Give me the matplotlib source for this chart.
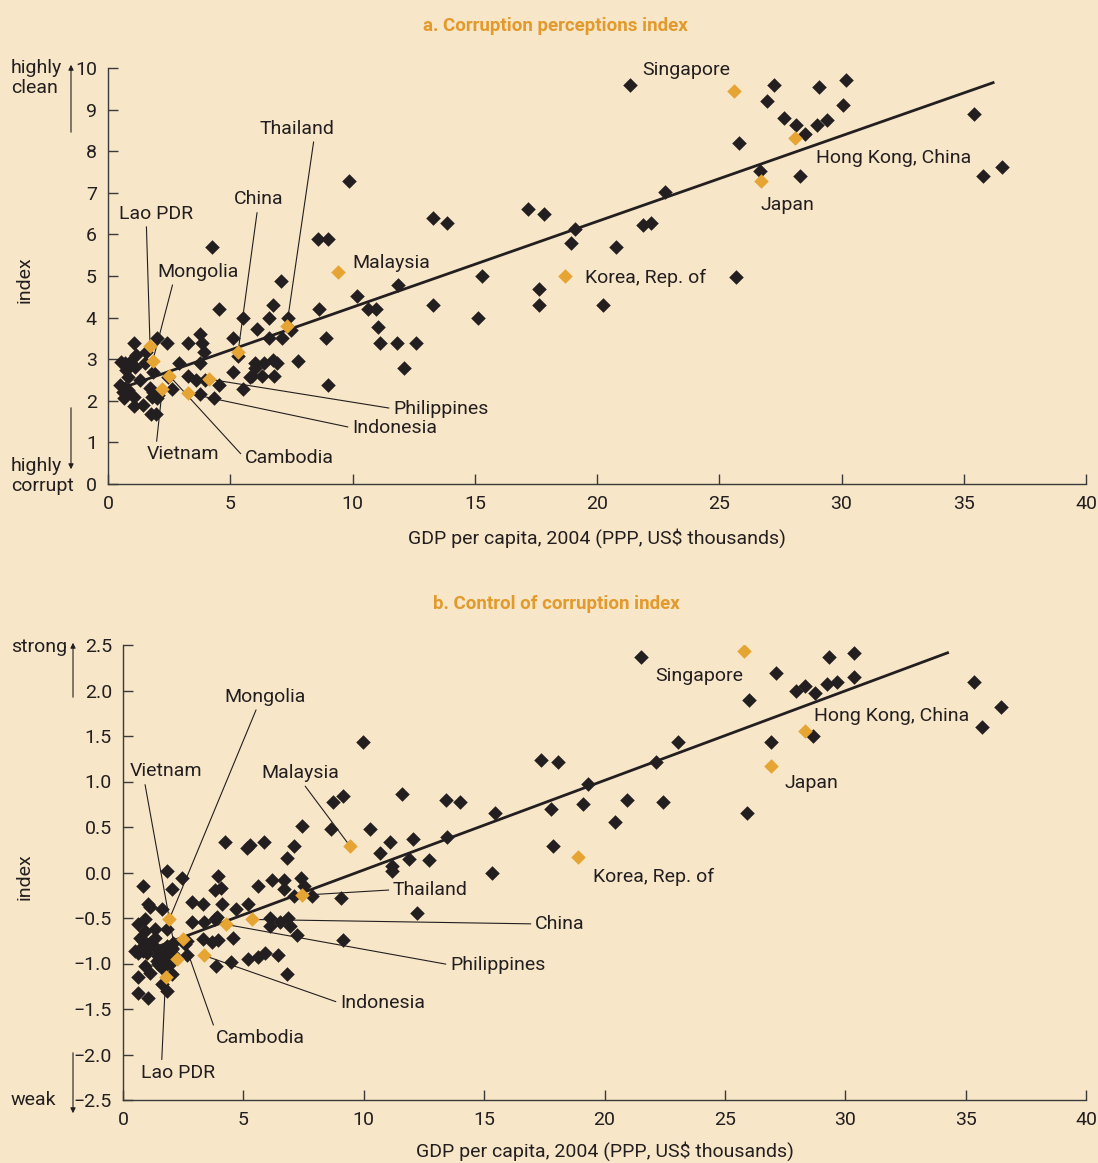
import numpy as np
import matplotlib
matplotlib.use("Agg")
import matplotlib.pyplot as plt
from matplotlib.ticker import FuncFormatter

plt.rcParams["font.family"] = ["Roboto", "DejaVu Sans"]

BG = "#f8e6c8"
DARK = "#231f20"
ORANGE = "#e6a532"
TITLE = "#e39a2d"

# ---------------- panel a: corruption perceptions index ----------------
a_other_x = [1.06, 2.02, 2.43, 1.54, 1.15, 0.52, 0.70, 0.90, 1.10, 0.72, 0.83, 1.53, 1.85, 2.89, 1.31,
             0.49, 0.70, 0.63, 0.83, 0.67, 1.08, 1.08, 1.45, 1.72, 1.85, 1.79, 1.99, 1.92, 2.06, 1.76,
             1.95, 2.60, 2.47,
             3.29, 3.76, 3.86, 3.93, 3.76, 3.29, 3.58, 3.96, 3.76, 4.35, 4.55, 4.55, 4.25, 5.53, 5.13,
             5.33, 5.13, 5.51, 6.08, 6.01, 6.01, 5.88, 5.80, 6.29, 6.39, 6.60, 6.76, 6.60, 7.08, 7.10,
             7.37, 7.48, 6.76, 6.90, 6.79, 7.76, 8.63, 8.60, 9.01, 8.92, 9.01, 9.87, 10.17, 10.62,
             10.96, 11.03, 11.12, 11.80, 11.87, 12.12, 12.60,
             13.28, 13.85, 13.28, 15.31, 15.12, 17.17, 17.85, 17.64, 17.64, 18.92, 19.10, 20.26,
             20.76, 21.90, 22.20, 22.80, 21.35, 27.25, 26.97, 29.08, 30.17, 30.07, 27.63, 28.14,
             28.52, 29.00, 29.39, 25.81, 26.68, 28.32, 35.40, 35.80, 36.56, 25.70]
a_other_y = [3.40, 3.52, 3.40, 3.18, 3.09, 2.94, 2.90, 2.94, 2.82, 2.74, 2.58, 2.92, 2.70, 2.92, 2.50,
             2.38, 2.30, 2.22, 2.26, 2.06, 2.08, 1.87, 1.90, 2.30, 2.22, 2.10, 2.06, 2.14, 2.14, 1.68,
             1.68, 2.28, 2.58,
             3.40, 3.61, 3.40, 3.18, 2.92, 2.60, 2.50, 2.50, 2.16, 2.06, 2.38, 4.20, 5.69, 3.98, 3.52,
             3.07, 2.70, 2.28, 3.72, 2.92, 2.78, 2.60, 2.58, 2.60, 2.92, 3.98, 4.30, 3.52, 4.89, 3.52,
             3.98, 3.70, 2.98, 2.90, 2.60, 2.96, 4.20, 5.90, 5.90, 3.52, 2.38, 7.29, 4.52, 4.20,
             4.20, 3.77, 3.40, 3.40, 4.78, 2.80, 3.40,
             6.39, 6.28, 4.30, 5.00, 3.98, 6.60, 6.49, 4.68, 4.30, 5.80, 6.12, 4.30,
             5.69, 6.23, 6.28, 7.03, 9.60, 9.60, 9.21, 9.54, 9.70, 9.12, 8.79, 8.63,
             8.42, 8.63, 8.74, 8.20, 7.52, 7.40, 8.90, 7.40, 7.62, 4.98]

a_names = ["Singapore", "Hong Kong, China", "Japan", "Korea, Rep. of", "Malaysia", "Thailand",
           "China", "Lao PDR", "Mongolia", "Vietnam", "Cambodia", "Philippines", "Indonesia"]
a_gdp = [25.6, 28.1, 26.7, 18.7, 9.4, 7.31, 5.32, 1.72, 1.83, 2.22, 2.51, 4.14, 3.29]
a_cpi = [9.45, 8.31, 7.29, 5.00, 5.10, 3.80, 3.18, 3.32, 2.96, 2.28, 2.60, 2.52, 2.18]

a_fit = (2.19, 0.206)      # intercept, slope
a_fit_range = (0.83, 36.2)

# ---------------- panel b: control of corruption index ----------------
b_other_x = [0.82, 1.81, 2.44, 2.02, 1.05, 1.12, 1.61, 0.91, 0.61, 0.91, 1.33, 1.81, 1.33, 0.71, 0.84,
             0.98, 1.12, 0.50, 0.64, 0.84, 0.98, 0.71, 1.42, 1.61, 1.81, 2.02, 2.09, 2.02, 2.09, 1.95,
             1.88, 1.47, 1.81, 0.91, 1.12, 0.61, 2.02, 1.63, 1.81, 0.61, 1.03, 1.47, 1.61, 1.40, 1.95,
             2.57, 2.64, 2.67,
             2.85, 2.85, 3.34, 3.36, 3.82, 3.89, 3.93, 3.82, 4.06, 4.10, 3.34, 3.68, 3.96, 4.58, 3.85,
             4.49, 4.68, 5.18, 5.59, 6.20, 6.70, 6.70, 7.39, 7.11, 7.53, 7.84, 9.05, 12.20, 9.15, 6.10,
             6.10, 6.52, 6.86, 6.94, 7.21, 5.18, 5.59, 5.90, 6.42, 6.80,
             7.42, 8.62, 10.26, 4.25, 5.14, 5.27, 5.87, 7.11, 6.80, 10.67, 11.09, 12.06, 13.44, 11.88,
             11.16, 11.18, 12.71, 15.34, 9.95, 8.73, 9.15, 11.57, 13.40, 14.01, 15.44,
             17.37, 18.08, 19.30, 22.13, 23.05, 17.77, 19.09, 20.92, 22.44, 20.42, 17.87, 21.52, 27.12,
             29.33, 30.36, 30.36, 26.00, 27.94, 28.33, 28.74, 29.25, 29.66, 35.34, 36.46, 35.66, 28.64,
             26.91, 25.90]
b_other_y = [-0.15, 0.015, -0.058, -0.179, -0.35, -0.377, -0.40, -0.516, -0.571, -0.645, -0.626, -0.62,
             -0.718, -0.718, -0.755, -0.79, -0.773, -0.865, -0.882, -0.865, -0.882, -0.846, -0.846,
             -0.865, -0.81, -0.828, -0.773, -0.846, -0.90, -0.90, -0.956, -0.92, -1.01, -1.03, -1.10,
             -1.15, -1.12, -1.22, -1.30, -1.32, -1.375, -1.01, -1.05, -0.97, -1.00,
             -0.79, -0.755, -0.91,
             -0.326, -0.546, -0.35, -0.546, -0.516, -0.487, -0.033, -0.187, -0.168, -0.35, -0.736,
             -0.766, -0.744, -0.718, -1.03, -0.986, -0.40, -0.35, -0.15, -0.085, -0.085, -0.179,
             -0.058, -0.253, -0.15, -0.253, -0.278, -0.45, -0.744, -0.498, -0.59, -0.546, -0.498,
             -0.59, -0.692, -0.956, -0.93, -0.88, -0.91, -1.11,
             0.509, 0.48, 0.48, 0.333, 0.27, 0.297, 0.333, 0.289, 0.161, 0.216, 0.333, 0.363, 0.392,
             0.143, 0.07, 0.015, 0.135, 0.0, 1.436, 0.777, 0.846, 0.868, 0.80, 0.777, 0.652,
             1.24, 1.217, 0.975, 1.217, 1.436, 0.703, 0.75, 0.80, 0.777, 0.553, 0.29, 2.366, 2.195,
             2.366, 2.414, 2.146, 1.90, 2.00, 2.047, 1.975, 2.074, 2.096, 2.096, 1.824, 1.604, 1.505,
             1.432, 0.652]

b_names = a_names
b_gdp = [25.79, 28.33, 26.91, 18.88, 9.43, 7.42, 5.37, 1.77, 1.92, 2.23, 2.50, 4.26, 3.35]
b_cc = [2.436, 1.56, 1.17, 0.168, 0.29, -0.25, -0.516, -1.146, -0.516, -0.956, -0.736, -0.57, -0.91]

b_fit = (-0.956, 0.0984)
b_fit_range = (1.0, 34.25)

# label placement: name -> (x, y, ha, relpos for leader or None)
a_labels = {
    "Singapore": (23.64, 9.96, "center", None),
    "Hong Kong, China": (32.15, 7.84, "center", None),
    "Japan": (27.77, 6.71, "center", None),
    "Korea, Rep. of": (19.51, 4.96, "left", None),
    "Malaysia": (11.57, 5.32, "center", None),
    "Thailand": (7.73, 8.54, "center", (0.73, 0.0)),
    "China": (6.18, 6.84, "center", (0.47, 0.0)),
    "Lao PDR": (1.96, 6.50, "center", (0.37, 0.0)),
    "Mongolia": (3.68, 5.10, "center", (0.2, 0.0)),
    "Vietnam": (3.07, 0.71, "center", (0.13, 1.0)),
    "Cambodia": (7.40, 0.63, "center", (0.0, 0.5)),
    "Philippines": (11.66, 1.81, "left", (0.0, 0.5)),
    "Indonesia": (9.98, 1.35, "left", (0.0, 0.5)),
}
b_labels = {
    "Singapore": (23.92, 2.16, "center", None),
    "Hong Kong, China": (31.94, 1.72, "center", None),
    "Japan": (28.61, 0.98, "center", None),
    "Korea, Rep. of": (19.52, -0.05, "left", None),
    "Malaysia": (7.35, 1.09, "center", (0.53, 0.0)),
    "Mongolia": (5.90, 1.93, "center", (0.41, 0.0)),
    "Vietnam": (1.79, 1.11, "center", (0.2, 0.0)),
    "Cambodia": (5.69, -1.82, "center", (0.0, 0.9)),
    "Lao PDR": (2.28, -2.20, "center", (0.28, 1.0)),
    "Thailand": (11.21, -0.19, "left", (0.0, 0.5)),
    "China": (17.11, -0.565, "left", (0.0, 0.5)),
    "Philippines": (13.58, -1.015, "left", (0.0, 0.5)),
    "Indonesia": (9.01, -1.435, "left", (0.0, 0.5)),
}

W, H = 1098, 1163


def fx(px):
    return px / W


def fy(py):
    return 1 - py / H


fig = plt.figure(figsize=(W / 100, H / 100), dpi=100, facecolor=BG)


def draw_panel(ax, ox, oy, hx, hy, names, fit, fit_range, labels, ylim, yticks, fmt, lpad):
    ax.set_facecolor(BG)
    xs = np.array(fit_range)
    ax.plot(xs, fit[0] + fit[1] * xs, color=DARK, lw=2.0, zorder=2)
    ax.scatter(ox, oy, marker="D", s=55, color=DARK, lw=0, zorder=3)
    ax.scatter(hx, hy, marker="D", s=55, color=ORANGE, lw=0, zorder=4)
    for name, px, py in zip(names, hx, hy):
        tx, ty, ha, rel = labels[name]
        if rel is None:
            ax.text(tx, ty, name, ha=ha, va="center", fontsize=14, color=DARK)
        else:
            ax.annotate(name, xy=(px, py), xytext=(tx, ty), ha=ha, va="center",
                        fontsize=14, color=DARK,
                        arrowprops=dict(arrowstyle="-", color=DARK, lw=0.8,
                                        shrinkA=1, shrinkB=3, relpos=rel))
    ax.set_xlim(0, 40)
    ax.set_ylim(*ylim)
    ax.set_xticks(range(0, 41, 5))
    ax.set_yticks(yticks)
    ax.yaxis.set_major_formatter(FuncFormatter(fmt))
    for s in ("top", "right"):
        ax.spines[s].set_visible(False)
    for s in ("left", "bottom"):
        ax.spines[s].set_color("#3a3a3a")
        ax.spines[s].set_linewidth(1.0)
    ax.tick_params(direction="in", length=7, width=1, color="#3a3a3a",
                   labelsize=14, labelcolor=DARK, pad=8)
    ax.set_xlabel("GDP per capita, 2004 (PPP, US$ thousands)", fontsize=14, color=DARK, labelpad=lpad)


axa = fig.add_axes([fx(108), fy(484), fx(1086) - fx(108), fy(68) - fy(484)])
draw_panel(axa, a_other_x, a_other_y, a_gdp, a_cpi, a_names, a_fit, a_fit_range, a_labels,
           (0, 10), range(0, 11), lambda v, p: f"{v:.0f}", 11)

axb = fig.add_axes([fx(123), fy(1100), fx(1086) - fx(123), fy(645) - fy(1100)])
draw_panel(axb, b_other_x, b_other_y, b_gdp, b_cc, b_names, b_fit, b_fit_range, b_labels,
           (-2.5, 2.5), np.arange(-2.5, 2.51, 0.5), lambda v, p: f"{v:.1f}".replace("-", "\u2212"), 9)

# titles
fig.text(fx(555), fy(26), "a. Corruption perceptions index", ha="center", va="center",
         fontsize=13.5, fontweight="bold", color=TITLE)
fig.text(fx(556), fy(604), "b. Control of corruption index", ha="center", va="center",
         fontsize=13.5, fontweight="bold", color=TITLE)

# side annotations
side = dict(fontsize=14, color=DARK, va="center")
fig.text(fx(25), fy(280), "index", rotation=90, ha="center", **side)
fig.text(fx(25), fy(877), "index", rotation=90, ha="center", **side)
fig.text(fx(11), fy(78), "highly\nclean", ha="left", linespacing=1.1, **side)
fig.text(fx(11), fy(476), "highly\ncorrupt", ha="left", linespacing=1.1, **side)
fig.text(fx(11), fy(647), "strong", ha="left", **side)
fig.text(fx(11), fy(1100), "weak", ha="left", **side)


def side_arrow(x, y0, y1):
    fig.add_artist(matplotlib.patches.FancyArrowPatch(
        (fx(x), fy(y0)), (fx(x), fy(y1)), transform=fig.transFigure,
        arrowstyle="-|>,head_length=3,head_width=1.5", color=DARK, lw=0.8))


side_arrow(71, 135, 62)
side_arrow(71, 405, 472)
side_arrow(73, 700, 640)
side_arrow(73, 1050, 1116)

fig.savefig("out.png", dpi=100, facecolor=BG)
